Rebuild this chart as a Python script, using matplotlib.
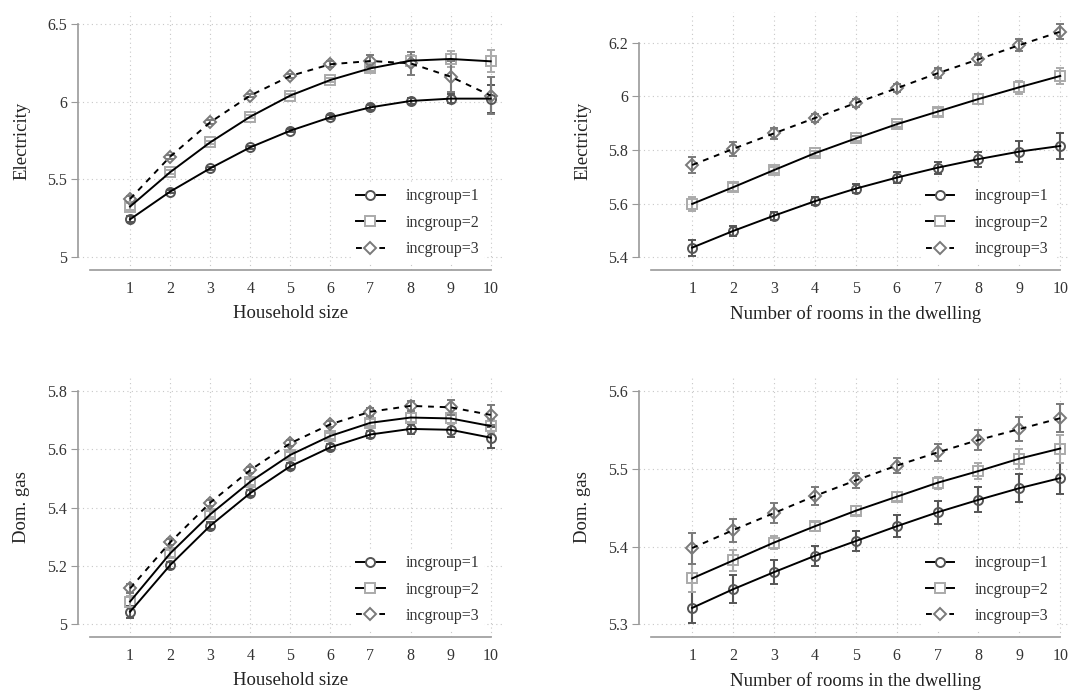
import matplotlib
matplotlib.use("Agg")
import matplotlib.pyplot as plt
from matplotlib.lines import Line2D
import numpy as np

plt.rcParams['font.family'] = ['Liberation Serif', 'DejaVu Serif']

x = np.arange(1, 11)
groups = ['incgroup=1', 'incgroup=2', 'incgroup=3']

# Electricity by household size
elec_hh = [
    [5.244, 5.422, 5.572, 5.707, 5.814, 5.900, 5.964, 6.005, 6.020, 6.020],
    [5.326, 5.547, 5.739, 5.904, 6.040, 6.140, 6.215, 6.264, 6.275, 6.260],
    [5.375, 5.647, 5.868, 6.040, 6.166, 6.241, 6.262, 6.247, 6.161, 6.040],
]
elec_hh_err = [
    [0.020, 0.012, 0.010, 0.010, 0.010, 0.012, 0.014, 0.018, 0.030, 0.090],
    [0.020, 0.012, 0.010, 0.010, 0.010, 0.012, 0.020, 0.035, 0.050, 0.070],
    [0.020, 0.012, 0.012, 0.012, 0.012, 0.018, 0.040, 0.075, 0.100, 0.120],
]

# Electricity by number of rooms
elec_rm = [
    [5.436, 5.498, 5.555, 5.609, 5.656, 5.697, 5.734, 5.766, 5.794, 5.815],
    [5.599, 5.661, 5.725, 5.788, 5.843, 5.896, 5.943, 5.990, 6.034, 6.076],
    [5.744, 5.804, 5.862, 5.919, 5.975, 6.030, 6.086, 6.138, 6.191, 6.241],
]
elec_rm_err = [
    [0.030, 0.020, 0.015, 0.015, 0.017, 0.020, 0.022, 0.028, 0.038, 0.048],
    [0.025, 0.015, 0.010, 0.010, 0.010, 0.010, 0.015, 0.020, 0.025, 0.030],
    [0.030, 0.025, 0.020, 0.015, 0.015, 0.015, 0.018, 0.020, 0.022, 0.028],
]

# Dom. gas by household size
gas_hh = [
    [5.043, 5.203, 5.338, 5.450, 5.542, 5.607, 5.651, 5.670, 5.667, 5.640],
    [5.078, 5.243, 5.377, 5.489, 5.581, 5.646, 5.691, 5.709, 5.706, 5.680],
    [5.123, 5.281, 5.417, 5.529, 5.621, 5.686, 5.729, 5.749, 5.744, 5.718],
]
gas_hh_err = [
    [0.020, 0.012, 0.012, 0.010, 0.010, 0.010, 0.012, 0.017, 0.025, 0.035],
    [0.020, 0.012, 0.010, 0.010, 0.010, 0.010, 0.012, 0.015, 0.020, 0.025],
    [0.015, 0.010, 0.010, 0.010, 0.010, 0.010, 0.013, 0.017, 0.025, 0.035],
]

# Dom. gas by number of rooms
gas_rm = [
    [5.321, 5.345, 5.367, 5.388, 5.407, 5.426, 5.444, 5.460, 5.475, 5.488],
    [5.359, 5.382, 5.405, 5.426, 5.446, 5.464, 5.482, 5.497, 5.513, 5.526],
    [5.398, 5.421, 5.443, 5.465, 5.485, 5.504, 5.521, 5.537, 5.551, 5.565],
]
gas_rm_err = [
    [0.020, 0.018, 0.015, 0.013, 0.013, 0.014, 0.015, 0.016, 0.018, 0.020],
    [0.018, 0.013, 0.008, 0.006, 0.006, 0.006, 0.008, 0.010, 0.013, 0.018],
    [0.020, 0.015, 0.013, 0.011, 0.010, 0.010, 0.011, 0.013, 0.015, 0.018],
]

markers = ['o', 's', 'D']
msizes = [6.5, 6.5, 6]
mcolors = ['#555555', '#aaaaaa', '#7a7a7a']
lstyles = ['-', '-', (0, (3, 3))]

W, H = 1069, 693
fig = plt.figure(figsize=(W / 100, H / 100), dpi=100)


def px_axes(left, top, right, bottom):
    return fig.add_axes([left / W, 1 - bottom / H, (right - left) / W, (bottom - top) / H])


def panel(ax, vals, errs, ylim, yticks, ylabels, xlabel, ylabel):
    for i in range(3):
        ax.errorbar(x, vals[i], yerr=errs[i], fmt=markers[i], ms=msizes[i],
                    mfc='none', mec=mcolors[i], mew=1.4, ecolor=mcolors[i],
                    elinewidth=1.5, capsize=3, capthick=1.5, zorder=3)
        ax.plot(x, vals[i], color='black', lw=1.4, ls=lstyles[i], zorder=4)
    ax.set_xlim(-0.3, 10.3)
    ax.set_ylim(*ylim)
    ax.set_xticks(x)
    ax.set_yticks(yticks)
    ax.set_yticklabels(ylabels)
    ax.grid(True, color='#c8c8c8', ls=(0, (1, 3)), lw=0.8)
    ax.set_axisbelow(True)
    for s in ['top', 'right']:
        ax.spines[s].set_visible(False)
    ax.spines['left'].set_bounds(yticks[0], yticks[-1])
    ax.spines['bottom'].set_bounds(0, 10)
    for s in ['left', 'bottom']:
        ax.spines[s].set_color('#999999')
        ax.spines[s].set_linewidth(1.2)
    ax.tick_params(axis='y', length=5, color='#999999', labelsize=11.5,
                   labelcolor='#333333', pad=3)
    ax.tick_params(axis='x', length=0, labelsize=11.5, labelcolor='#333333', pad=8)
    ax.set_xlabel(xlabel, fontsize=13.5, color='#222222', labelpad=6)
    ax.set_ylabel(ylabel, fontsize=13.5, color='#222222', labelpad=12)
    handles = [Line2D([], [], color='black', lw=1.4, ls=lstyles[i], marker=markers[i],
                      ms=msizes[i], mfc='white', mec=mcolors[i], mew=1.4)
               for i in range(3)]
    leg = ax.legend(handles, groups, loc='lower right', bbox_to_anchor=(0.975, 0.0),
                    frameon=True, framealpha=1, edgecolor='none', fontsize=11.5,
                    handlelength=1.8, labelspacing=0.65, borderpad=0.3,
                    handletextpad=1.3)
    leg.set_zorder(5)
    for t in leg.get_texts():
        t.set_color('#333333')


ax1 = px_axes(78, 11.7, 502.7, 270)
panel(ax1, elec_hh, elec_hh_err, (4.918, 6.579), [5, 5.5, 6, 6.5],
      ['5', '5.5', '6', '6.5'], 'Household size', 'Electricity')

ax2 = px_axes(639, 11.7, 1072.5, 270)
panel(ax2, elec_rm, elec_rm_err, (5.3526, 6.3156), [5.4, 5.6, 5.8, 6.0, 6.2],
      ['5.4', '5.6', '5.8', '6', '6.2'], 'Number of rooms in the dwelling', 'Electricity')

ax3 = px_axes(78, 378, 502.7, 636.7)
panel(ax3, gas_hh, gas_hh_err, (4.9575, 5.8446), [5.0, 5.2, 5.4, 5.6, 5.8],
      ['5', '5.2', '5.4', '5.6', '5.8'], 'Household size', 'Dom. gas')

ax4 = px_axes(639, 378, 1072.5, 636.7)
panel(ax4, gas_rm, gas_rm_err, (5.284, 5.6167), [5.3, 5.4, 5.5, 5.6],
      ['5.3', '5.4', '5.5', '5.6'], 'Number of rooms in the dwelling', 'Dom. gas')

fig.savefig('out.png', dpi=100)
